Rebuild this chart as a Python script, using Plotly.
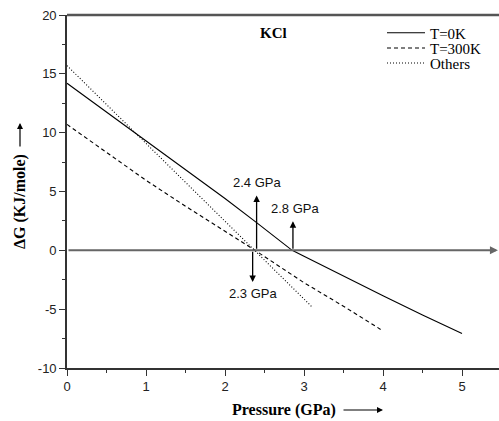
import plotly.graph_objects as go

# ---- data ----
p_0K = [0, 0.5, 1.0, 1.5, 2.0, 2.4, 2.85, 3.0, 3.5, 4.0, 4.5, 5.0]
dG_0K = [14.2, 11.75, 9.3, 6.85, 4.4, 2.35, 0.0, -0.5, -2.2, -3.85, -5.5, -7.06]

p_300K = [0, 0.5, 1.0, 1.5, 2.0, 2.38, 3.0, 3.5, 3.97]
dG_300K = [10.7, 8.3, 5.95, 3.75, 1.65, 0.0, -2.75, -4.75, -6.72]

p_others = [0, 1.0, 2.0, 2.37, 3.1]
dG_others = [15.7, 9.1, 2.5, 0.0, -4.8]

arrow_p = [2.4, 2.86, 2.35]          # transition pressures marked by arrows
arrow_tip = [4.66, 2.48, -2.7]       # arrow tip values (KJ/mole)
arrow_labels = ["2.4 GPa", "2.8 GPa", "2.3 GPa"]

x_ticks = [0, 1, 2, 3, 4, 5]
y_ticks = [-10, -5, 0, 5, 10, 15, 20]
y_ticktext = ["-10", "-5", "0", "5", "10", "15", "20"]

# ---- layout geometry ----
W, H = 499, 421
ML, MR, MT, MB = 67, 0, 15, 53
PW, PH = W - ML - MR, H - MT - MB


def px(xp):
    return (xp - ML) / PW


def py(yp):
    return (H - MB - yp) / PH


fig = go.Figure()
fig.add_trace(go.Scatter(x=p_0K, y=dG_0K, mode="lines", name="T=0K",
                         line=dict(color="black", width=1.1), legend="legend"))
fig.add_trace(go.Scatter(x=p_300K, y=dG_300K, mode="lines", name="T=300K",
                         line=dict(color="black", width=1.1, dash="4px,3px"), legend="legend2"))
fig.add_trace(go.Scatter(x=p_others, y=dG_others, mode="lines", name="Others",
                         line=dict(color="black", width=1.1, dash="1px,2px"), legend="legend3"))

ann = []
# zero line with arrow at right end
ann.append(dict(x=5.455, y=0, ax=0, ay=0, xref="x", yref="y", axref="x", ayref="y",
                showarrow=True, arrowhead=2, arrowsize=0.8, arrowwidth=2,
                arrowcolor="#666666", text=""))

shifts = [(0, 13), (2, 12.5), (0, -11.5)]
for xa, tip, lab, (dx, dy) in zip(arrow_p, arrow_tip, arrow_labels, shifts):
    ann.append(dict(x=xa, y=tip, ax=xa, ay=0, xref="x", yref="y", axref="x", ayref="y",
                    showarrow=True, arrowhead=2, arrowsize=1, arrowwidth=1.3,
                    arrowcolor="black", text=""))
    ann.append(dict(x=xa, y=tip, xref="x", yref="y", text=lab, showarrow=False,
                    xshift=dx, yshift=dy, xanchor="center", yanchor="middle",
                    font=dict(family="Liberation Sans, Arial", size=13, color="#111")))

serif = "Liberation Serif, Times New Roman"
# KCl label
ann.append(dict(x=px(273), y=py(33), xref="paper", yref="paper", text="<b>KCl</b>",
                xanchor="center", yanchor="middle", showarrow=False,
                font=dict(family=serif, size=15, color="black")))

# axis titles
ann.append(dict(x=px(284), y=py(410), xref="paper", yref="paper", text="<b>Pressure (GPa)</b>",
                xanchor="center", yanchor="middle", showarrow=False,
                font=dict(family=serif, size=16, color="black")))
ann.append(dict(x=px(383), y=py(410), xref="paper", yref="paper", ax=-41, ay=0,
                showarrow=True, arrowhead=2, arrowsize=1, arrowwidth=1.2, arrowcolor="black", text=""))
ann.append(dict(x=px(20), y=py(202), xref="paper", yref="paper", text="<b>ΔG (KJ/mole)</b>",
                xanchor="center", yanchor="middle", textangle=-90, showarrow=False,
                font=dict(family=serif, size=16, color="black")))
ann.append(dict(x=px(20), y=py(123), xref="paper", yref="paper", ax=0, ay=25,
                showarrow=True, arrowhead=2, arrowsize=1, arrowwidth=1.2, arrowcolor="black", text=""))

legend_font = dict(family=serif, size=15, color="black")
leg_common = dict(xanchor="left", yanchor="middle", bgcolor="rgba(0,0,0,0)",
                  font=legend_font, itemwidth=38)

axis_common = dict(showgrid=False, zeroline=False,
                   showline=True, linecolor="#333333", linewidth=1.6,
                   ticks="outside", ticklen=6, tickwidth=1.3, tickcolor="#333333",
                   tickfont=dict(family="Liberation Sans, Arial", size=13, color="#222"))

fig.update_layout(
    width=W, height=H,
    margin=dict(l=ML, r=MR, t=MT, b=MB),
    paper_bgcolor="white", plot_bgcolor="white",
    showlegend=True,
    legend=dict(x=px(382), y=py(33), **leg_common),
    legend2=dict(x=px(382), y=py(48.3), **leg_common),
    legend3=dict(x=px(382), y=py(63.3), **leg_common),
    annotations=ann,
    shapes=[dict(type="line", xref="paper", yref="paper", x0=0, x1=1, y0=1, y1=1,
                 line=dict(color="#555555", width=2.5))],
    xaxis=dict(range=[0, PW / 79.0], tickvals=x_ticks,
               minor=dict(ticks="outside", ticklen=3, tickwidth=1.2, tickcolor="#333333", dtick=0.5),
               **axis_common),
    yaxis=dict(range=[-10, 20], tickvals=y_ticks, ticktext=y_ticktext,
               minor=dict(ticks="outside", ticklen=3, tickwidth=1.2, tickcolor="#333333", dtick=2.5),
               **axis_common),
)

fig.write_html("out.html")
